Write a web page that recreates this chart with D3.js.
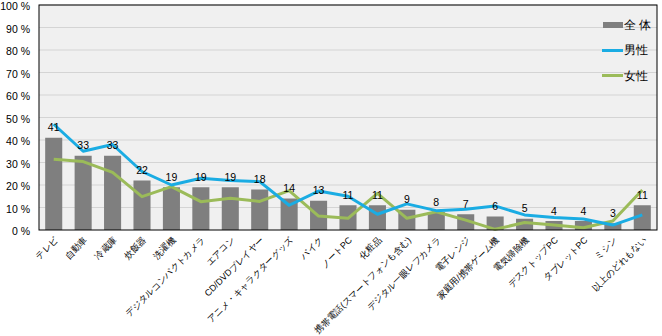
<!DOCTYPE html>
<html><head><meta charset="utf-8">
<script src="https://cdn.jsdelivr.net/npm/d3@7"></script>
<style>body{margin:0;background:#fff;} text{font-family:"Liberation Sans",Arial,sans-serif;}</style>
</head><body>
<svg id="c" width="662" height="336"></svg>
<script>
const categories = ["テレビ","自動車","冷蔵庫","炊飯器","洗濯機","デジタルコンパクトカメラ","エアコン","CD/DVDプレイヤー","アニメ・キャラクターグッズ","バイク","ノートPC","化粧品","携帯電話(スマートフォンも含む)","デジタル一眼レフカメラ","電子レンジ","家庭用/携帯ゲーム機","電気掃除機","デスクトップPC","タブレットPC","ミシン","以上のどれもない"];
const totalValues = [41,33,33,22,19,19,19,18,14,13,11,11,9,8,7,6,5,4,4,3,11];
const maleValues = [47,35,38,26,20,23,22,21.5,11,17.3,15,7,11.6,8.6,9.2,10.7,6.7,5.6,4.9,2.2,6.7];
const femaleValues = [31.4,30.4,25.6,14.8,19.3,12.6,14.1,12.7,17.5,6.2,5.2,16.3,5.2,8.1,4.4,0.3,3.3,2.2,1,4,17.8];
const yTicks = [0,10,20,30,40,50,60,70,80,90,100];
const seriesNames = ["全 体","男性","女性"];

const svg = d3.select("#c");
const L=39, R=657, T=5, B=230;
const x = d3.scaleBand().domain(categories).range([L,R]).paddingInner(0.42).paddingOuter(0.21);
const xc = d3.scalePoint().domain(categories).range([L,R]).padding(0.5);
const y = d3.scaleLinear().domain([0,100]).range([B,T]);

svg.append("rect").attr("x",L).attr("y",T).attr("width",R-L).attr("height",B-T).attr("fill","#F0F0F0");
svg.append("g").selectAll("line").data(yTicks.slice(1)).join("line")
  .attr("x1",L).attr("x2",R).attr("y1",d=>y(d)).attr("y2",d=>y(d))
  .attr("stroke","#D4D4D4").attr("stroke-width",1);

// y axis
const ya = svg.append("g").attr("transform",`translate(${L},1.5)`)
  .call(d3.axisLeft(y).tickValues(yTicks).tickSize(0).tickPadding(9).tickFormat(d=>d+" %"));
ya.select(".domain").remove();
ya.selectAll("text").attr("font-size",10.5).attr("fill","#000").attr("font-family","Liberation Sans, Arial, sans-serif");

// bars
svg.append("g").selectAll("rect").data(totalValues).join("rect")
  .attr("x",(d,i)=>x(categories[i])).attr("width",x.bandwidth())
  .attr("y",d=>y(d)).attr("height",d=>B-y(d)).attr("fill","#7F7F7F");

// lines
const line = d3.line().x((d,i)=>xc(categories[i])).y(d=>y(d));
svg.append("path").datum(femaleValues).attr("d",line).attr("fill","none").attr("stroke","#9BBB59").attr("stroke-width",3).attr("stroke-linejoin","round");
svg.append("path").datum(maleValues).attr("d",line).attr("fill","none").attr("stroke","#1AACE3").attr("stroke-width",3).attr("stroke-linejoin","round");

// data labels
svg.append("g").selectAll("text").data(totalValues).join("text")
  .attr("x",(d,i)=>xc(categories[i])).attr("y",d=>y(d)-6.5)
  .attr("text-anchor","middle").attr("font-size",10.5).attr("fill","#000").text(d=>d);

// border
svg.append("rect").attr("x",L).attr("y",T).attr("width",R-L).attr("height",B-T).attr("fill","none").attr("stroke","#000").attr("stroke-width",1);

// x labels
svg.append("g").selectAll("text").data(categories).join("text")
  .attr("transform",d=>`translate(${xc(d)+3},${B+9}) rotate(-45)`)
  .attr("text-anchor","end").attr("dominant-baseline","middle")
  .attr("font-size",9).attr("fill","#000").attr("font-family","Noto Sans CJK JP, sans-serif").text(d=>d);

// legend
const lg = svg.append("g");
lg.append("rect").attr("x",603).attr("y",22).attr("width",20).attr("height",6).attr("fill","#7F7F7F");
lg.append("line").attr("x1",602).attr("x2",623).attr("y1",50.5).attr("y2",50.5).attr("stroke","#1AACE3").attr("stroke-width",3);
lg.append("line").attr("x1",602).attr("x2",623).attr("y1",75.5).attr("y2",75.5).attr("stroke","#9BBB59").attr("stroke-width",3);
lg.selectAll("text").data(seriesNames).join("text")
  .attr("x",624).attr("y",(d,i)=>25+i*25.3).attr("dominant-baseline","central")
  .attr("font-size",12).attr("font-family","Noto Sans CJK JP, sans-serif").attr("fill","#000").text(d=>d);
</script>
</body></html>
